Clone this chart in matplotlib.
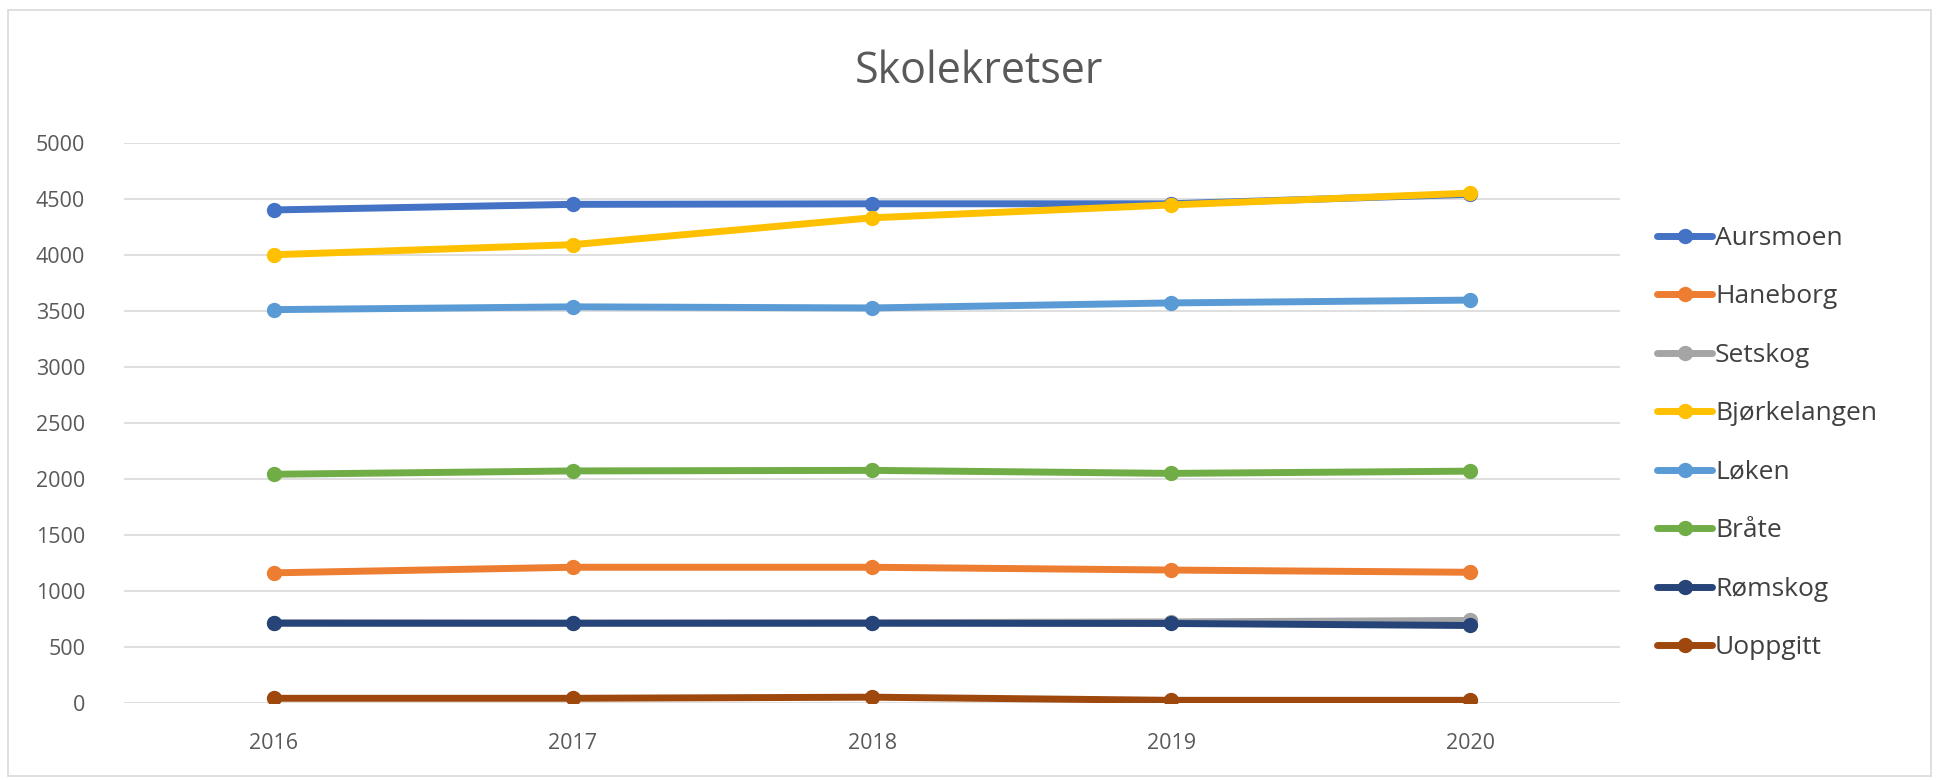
import matplotlib
matplotlib.use('Agg')
import matplotlib.pyplot as plt
from matplotlib.patches import Rectangle

# data
years = ['2016', '2017', '2018', '2019', '2020']
aursmoen = [4400, 4450, 4455, 4455, 4540]
haneborg = [1160, 1210, 1210, 1185, 1165]
setskog = [715, 712, 715, 722, 735]
bjorkelangen = [4000, 4090, 4330, 4445, 4550]
loken = [3510, 3535, 3525, 3570, 3595]
brate = [2040, 2070, 2075, 2048, 2068]
romskog = [710, 710, 710, 708, 690]
uoppgitt = [40, 40, 50, 22, 22]

series_names = ['Aursmoen', 'Haneborg', 'Setskog', 'Bjørkelangen', 'Løken', 'Bråte', 'Rømskog', 'Uoppgitt']
series_values = [aursmoen, haneborg, setskog, bjorkelangen, loken, brate, romskog, uoppgitt]
colors = ['#4472C4', '#ED7D31', '#A5A5A5', '#FFC000', '#5B9BD5', '#70AD47', '#264478', '#9E480E']

plt.rcParams['font.family'] = ['Open Sans', 'DejaVu Sans']

fig = plt.figure(figsize=(19.39, 7.80), dpi=100)
fig.patches.append(Rectangle((0.004, 0.005), 0.992, 0.982, transform=fig.transFigure,
                             fill=False, edgecolor='#D9D9D9', linewidth=1.2))

ax = fig.add_axes([0.064, 0.099, 0.7715, 0.718])

x = range(len(years))
for name, vals, c in zip(series_names, series_values, colors):
    ax.plot(x, vals, color=c, linewidth=5, marker='o', markersize=10,
            solid_capstyle='round', label=name)

ax.set_xlim(-0.5, len(years) - 0.5)
ax.set_ylim(0, 5000)
ax.set_yticks(range(0, 5001, 500))
ax.set_xticks(list(x))
ax.set_xticklabels(years)

ax.grid(True, axis='y', color='#D9D9D9', linewidth=1.2)
ax.set_axisbelow(True)
for s in ax.spines.values():
    s.set_visible(False)
ax.tick_params(axis='both', length=0, labelsize=15.5, labelcolor='#595959')
ax.tick_params(axis='y', pad=28)
ax.tick_params(axis='x', pad=22)

fig.text(0.505, 0.908, 'Skolekretser', ha='center', va='center', fontsize=31, color='#595959')

leg = fig.legend(loc='center left', bbox_to_anchor=(0.8546, 0.432), frameon=False,
                 fontsize=19, labelspacing=1.27, handlelength=2.1, handletextpad=0.1,
                 borderpad=0, borderaxespad=0, labelcolor='#404040')

plt.savefig('out.png', dpi=100)
